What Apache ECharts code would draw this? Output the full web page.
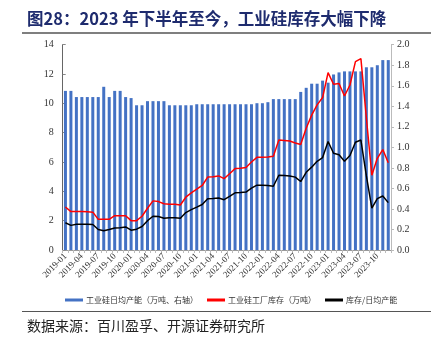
<!DOCTYPE html>
<html>
<head>
<meta charset="utf-8">
<script src="https://cdn.jsdelivr.net/npm/echarts@6/dist/echarts.min.js"></script>
<style>
  html, body { margin: 0; padding: 0; background: #fff; }
  #chart { width: 431px; height: 338px; }
</style>
</head>
<body>
<div id="chart"></div>
<script>
// Monthly categories, 2019-01 .. 2023-12
const months = [
  '2019-01','2019-02','2019-03','2019-04','2019-05','2019-06','2019-07','2019-08','2019-09','2019-10','2019-11','2019-12',
  '2020-01','2020-02','2020-03','2020-04','2020-05','2020-06','2020-07','2020-08','2020-09','2020-10','2020-11','2020-12',
  '2021-01','2021-02','2021-03','2021-04','2021-05','2021-06','2021-07','2021-08','2021-09','2021-10','2021-11','2021-12',
  '2022-01','2022-02','2022-03','2022-04','2022-05','2022-06','2022-07','2022-08','2022-09','2022-10','2022-11','2022-12',
  '2023-01','2023-02','2023-03','2023-04','2023-05','2023-06','2023-07','2023-08','2023-09','2023-10','2023-11','2023-12'
];

// 工业硅日均产能（万吨，右轴）
const dailyCapacity = [
  1.55,1.55,1.49,1.49,1.49,1.49,1.49,1.59,1.49,1.55,1.55,1.49,
  1.48,1.41,1.41,1.45,1.45,1.45,1.45,1.41,1.41,1.41,1.41,1.41,
  1.42,1.42,1.42,1.42,1.42,1.42,1.42,1.42,1.42,1.42,1.42,1.43,
  1.43,1.44,1.47,1.47,1.47,1.47,1.47,1.54,1.58,1.62,1.62,1.65,
  1.63,1.71,1.73,1.74,1.74,1.74,1.74,1.78,1.78,1.80,1.85,1.85
];

// 工业硅工厂库存（万吨，左轴）
const factoryStock = [
  2.93,2.62,2.62,2.62,2.60,2.58,2.09,2.09,2.09,2.34,2.34,2.34,
  2.00,2.00,2.30,2.85,3.35,3.30,3.15,3.12,3.12,3.07,3.60,3.90,
  4.15,4.40,4.97,5.00,5.05,4.87,5.20,5.55,5.58,5.62,6.00,6.32,
  6.33,6.35,6.40,7.50,7.47,7.43,7.30,7.20,8.30,9.20,9.90,10.40,
  12.10,11.30,11.35,10.50,11.25,12.85,13.05,9.00,5.10,6.25,6.85,5.95
];

// 库存/日均产能（左轴）
const stockToCapacity = [
  1.86,1.68,1.75,1.75,1.75,1.74,1.40,1.31,1.40,1.50,1.52,1.57,
  1.35,1.42,1.60,2.00,2.30,2.28,2.17,2.20,2.20,2.16,2.55,2.75,
  2.92,3.10,3.50,3.52,3.55,3.43,3.66,3.90,3.92,3.95,4.22,4.42,
  4.42,4.40,4.35,5.10,5.08,5.05,4.97,4.67,5.30,5.65,6.05,6.30,
  7.40,6.60,6.50,6.05,6.45,7.35,7.50,5.05,2.85,3.50,3.68,3.23
];

const leftTicks = { min: 0, max: 14, interval: 2 };
const rightTicks = { min: 0, max: 2, interval: 0.2 };

const serif = '"Liberation Serif", "Times New Roman", serif';
const cjk = '"Noto Sans CJK SC", "Liberation Serif", serif';

const chart = echarts.init(document.getElementById('chart'), null, { renderer: 'canvas' });

chart.setOption({
  animation: false,
  backgroundColor: '#ffffff',
  title: [
    {
      text: '图28：2023 年下半年至今，工业硅库存大幅下降',
      left: 22, top: 5,
      textStyle: { fontFamily: cjk, fontSize: 16.5, fontWeight: 'bold', color: '#1e2b6e' }
    },
    {
      text: '数据来源：百川盈孚、开源证券研究所',
      left: 22, top: 314,
      textStyle: { fontFamily: cjk, fontSize: 14, fontWeight: 'normal', color: '#222' }
    }
  ],
  graphic: [
    { type: 'line', shape: { x1: 22, y1: 33, x2: 431, y2: 33 }, style: { stroke: '#555', lineWidth: 1.5 } },
    { type: 'line', shape: { x1: 22, y1: 311.5, x2: 431, y2: 311.5 }, style: { stroke: '#555', lineWidth: 1.2 } }
  ],
  legend: {
    left: 60, top: 291,
    itemWidth: 18, itemHeight: 3, itemGap: 9,
    icon: 'rect',
    textStyle: { fontFamily: cjk, fontSize: 8, color: '#333', padding: [0, 0, 0, -2] },
    data: ['工业硅日均产能（万吨、右轴）', '工业硅工厂库存（万吨）', '库存/日均产能']
  },
  grid: { left: 62.7, right: 40, top: 44.7, bottom: 88, containLabel: false },
  xAxis: {
    type: 'category',
    data: months,
    boundaryGap: true,
    axisLine: { lineStyle: { color: '#999', width: 1 } },
    axisTick: { show: true, interval: 0, length: 3, lineStyle: { color: '#bbb' } },
    axisLabel: { interval: 2, rotate: 45, fontFamily: serif, fontSize: 9, color: '#333', margin: 5 }
  },
  yAxis: [
    {
      type: 'value',
      min: leftTicks.min, max: leftTicks.max, interval: leftTicks.interval,
      axisLine: { show: true, lineStyle: { color: '#666' } },
      axisTick: { show: true, inside: true, length: 3, lineStyle: { color: '#888' } },
      splitLine: { show: false },
      axisLabel: { fontFamily: serif, fontSize: 10, color: '#333', margin: 9 }
    },
    {
      type: 'value',
      min: rightTicks.min, max: rightTicks.max, interval: rightTicks.interval,
      axisLine: { show: true, lineStyle: { color: '#bbb' } },
      axisTick: { show: true, length: 3, lineStyle: { color: '#bbb' } },
      splitLine: { show: false },
      axisLabel: { fontFamily: serif, fontSize: 10, color: '#333', margin: 6,
        formatter: v => v.toFixed(1) }
    }
  ],
  series: [
    {
      name: '工业硅日均产能（万吨、右轴）',
      type: 'bar',
      yAxisIndex: 1,
      data: dailyCapacity,
      barWidth: 3,
      itemStyle: { color: '#4472c4' }
    },
    {
      name: '工业硅工厂库存（万吨）',
      type: 'line',
      yAxisIndex: 0,
      data: factoryStock,
      symbol: 'none',
      lineStyle: { color: '#ff0000', width: 1.5 },
      itemStyle: { color: '#ff0000' }
    },
    {
      name: '库存/日均产能',
      type: 'line',
      yAxisIndex: 0,
      data: stockToCapacity,
      symbol: 'none',
      lineStyle: { color: '#000000', width: 1.5 },
      itemStyle: { color: '#000000' }
    }
  ]
});
</script>
</body>
</html>
